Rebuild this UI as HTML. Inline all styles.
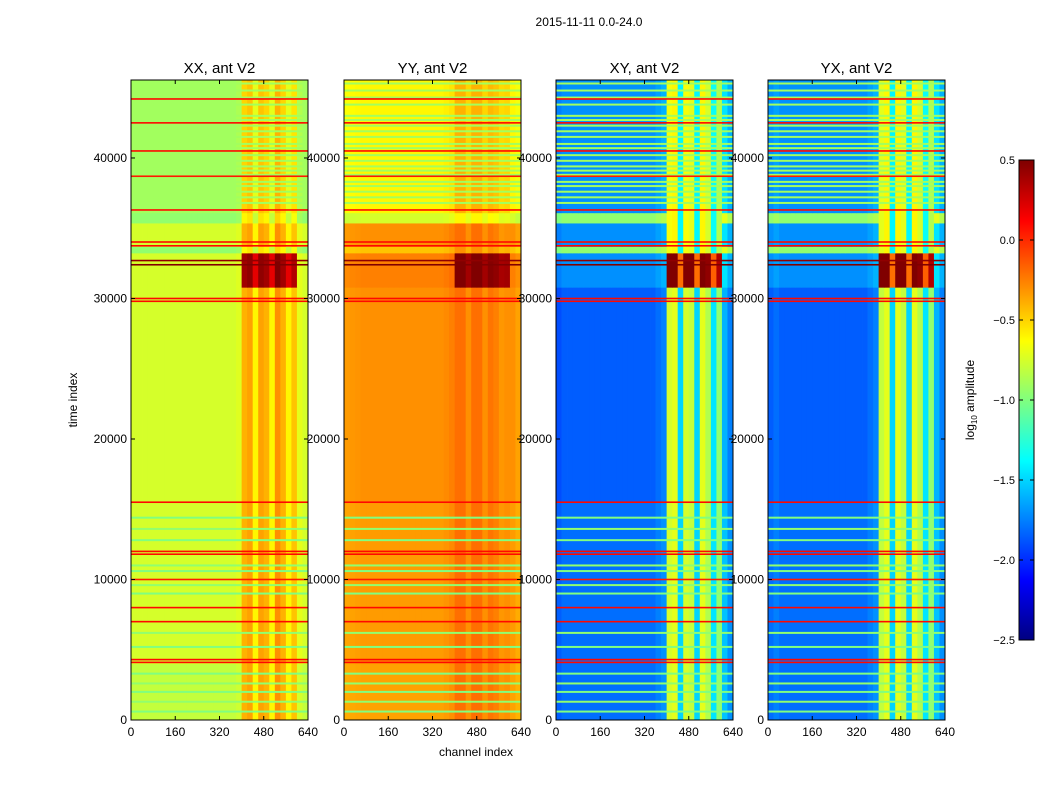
<!DOCTYPE html>
<html><head><meta charset="utf-8"><style>body{margin:0;background:#fff}svg{display:block;font-family:"Liberation Sans",sans-serif}</style></head>
<body>
<svg id="fig" width="1050" height="800">
<text x="589" y="26" font-size="12" text-anchor="middle">2015-11-11 0.0-24.0</text>
<text transform="translate(77,400) rotate(-90)" font-size="12" text-anchor="middle">time index</text>
<text x="476" y="756" font-size="12" text-anchor="middle">channel index</text>
<text transform="translate(974,400) rotate(-90)" font-size="12" text-anchor="middle">log<tspan font-size="8" dy="3">10</tspan><tspan dy="-3"> amplitude</tspan></text>
</svg>
<script>
const panelTitles=["XX, ant V2","YY, ant V2","XY, ant V2","YX, ant V2"];
const xTicks=[0,160,320,480,640];
const yTicks=[0,10000,20000,30000,40000];
const cbTicks=[0.5,0.0,-0.5,-1.0,-1.5,-2.0,-2.5];
const segStarts=[0,4000,15500,30800,33240,33700,35370,36100];
const segEnds=[4000,15500,30800,33240,33700,35370,36100,45550];
const baseXX=[-0.75,-0.75,-0.75,-0.75,-0.75,-0.75,-0.75,-0.75,-0.75,-0.75,-0.75,-0.75,-0.75,-0.75,-0.75,-0.75,-0.75,-0.75,-0.75,-0.72,-0.4,-0.35,-0.6,-0.35,-0.4,-0.6,-0.3,-0.4,-0.6,-0.45,-0.7,-0.75];
const baseYY=[-0.38,-0.37,-0.36,-0.35,-0.35,-0.35,-0.35,-0.35,-0.35,-0.35,-0.35,-0.35,-0.35,-0.35,-0.35,-0.35,-0.35,-0.35,-0.33,-0.3,-0.2,-0.2,-0.3,-0.2,-0.2,-0.3,-0.22,-0.25,-0.32,-0.3,-0.35,-0.4];
const baseXY=[-1.9,-1.85,-1.85,-1.85,-1.85,-1.85,-1.85,-1.85,-1.85,-1.85,-1.85,-1.85,-1.85,-1.85,-1.85,-1.85,-1.85,-1.85,-1.8,-1.75,-0.75,-0.7,-1.5,-0.75,-0.8,-1.5,-0.7,-0.85,-1.45,-0.95,-1.6,-1.75];
const baseYX=[-1.85,-1.8,-1.85,-1.85,-1.85,-1.85,-1.85,-1.85,-1.85,-1.85,-1.85,-1.85,-1.85,-1.85,-1.85,-1.85,-1.85,-1.85,-1.8,-1.75,-0.8,-0.7,-1.5,-0.7,-0.8,-1.5,-0.7,-0.85,-1.45,-0.95,-1.6,-1.75];
const bgOffXX=[-0.05,0,0,0,-0.2,0,-0.2,-0.15];
const bandOffXX=[0,0,0,0.8,-0.2,0,-0.2,-0.1];
const bgOffYY=[0,0.02,0.05,0.1,-0.1,0.05,-0.4,-0.25];
const bandOffYY=[0,0,0,0.7,-0.1,0,-0.4,-0.2];
const bgOffXY=[0.05,0.05,0,0.15,0.9,0.15,0.9,0.15];
const bandOffXY=[0,0,0,1.3,0.1,0.1,0.1,0.1];
const bgOffYX=[0.05,0.05,0,0.15,0.9,0.15,0.9,0.15];
const bandOffYX=[0,0,0,1.3,0.1,0.1,0.1,0.1];
const redLineTimes=[4100,4300,7000,8000,10000,11800,12000,15500,29800,30000,32400,32700,33750,34020,36300,38700,40500,42500,44200];
const redLineValues=[0.1,0.1,0.1,0.1,0.05,0.1,0.1,0.1,0.1,0.1,0.5,0.45,0.1,0.1,0.1,0.05,0.1,0.1,0.1];
const greenLineTimes=[600,1300,2000,2600,3300,5200,6200,9000,9600,10600,11000,12800,13600,14400,36800,37200,37600,38000,38300,38800,39100,39400,39800,40200,40700,41000,41500,41900,42300,42700,43000,43800,44300,44800,45300];
const greenLineValues=[-1.0,-0.95,-1.0,-0.95,-1.0,-1.0,-0.95,-1.0,-0.95,-1.0,-0.95,-1.0,-0.95,-1.0,-0.9,-0.9,-0.9,-0.9,-0.9,-0.9,-0.9,-0.9,-0.9,-0.9,-0.9,-0.9,-0.9,-0.9,-0.9,-0.9,-0.9,-0.9,-0.9,-0.9,-0.9];
const bandStart=400, bandEnd=600, binWidth=20, tMax=45550, chMax=640;
const vmin=-2.5, vmax=0.5;
const panelLefts=[131,344,556,768], panelW=177, plotTop=80, plotBottom=720;
const bases=[baseXX,baseYY,baseXY,baseYX];
const bgOffs=[bgOffXX,bgOffYY,bgOffXY,bgOffYX];
const bandOffs=[bandOffXX,bandOffYY,bandOffXY,bandOffYX];
const NS="http://www.w3.org/2000/svg";
const svg=document.getElementById('fig');
function mk(tag,attrs,parent){const e=document.createElementNS(NS,tag);for(const k in attrs)e.setAttribute(k,attrs[k]);(parent||svg).appendChild(e);return e;}
function jet(v){let t=(v-vmin)/(vmax-vmin);t=Math.max(0,Math.min(1,t));
 const c=x=>Math.max(0,Math.min(1,x));
 const r=c(Math.min(4*t-1.5,-4*t+4.5)),g=c(Math.min(4*t-0.5,-4*t+3.5)),b=c(Math.min(4*t+0.5,-4*t+2.5));
 return `rgb(${Math.round(r*255)},${Math.round(g*255)},${Math.round(b*255)})`;}
function yScale(t){return plotBottom-(t/tMax)*(plotBottom-plotTop);}
function xScale(p,ch){return panelLefts[p]+ch/chMax*panelW;}
for(let p=0;p<4;p++){
 const g=mk('g',{});
 
 
 for(let s=0;s<segStarts.length;s++){
  for(let b=0;b<bases[p].length;b++){
   const ch=b*binWidth;const inBand=ch>=bandStart&&ch<bandEnd;
   const v=bases[p][b]+(inBand?bandOffs[p][s]:bgOffs[p][s]);
   const x0=xScale(p,ch),x1=xScale(p,ch+binWidth),y0=yScale(segEnds[s]),y1=yScale(segStarts[s]);
   const r=mk('rect',{x:x0,y:y0,width:x1-x0+0.4,height:y1-y0+0.4,fill:jet(v)},g);
   
   
  }
 }
 greenLineTimes.forEach((t,i)=>{const y=yScale(t);
  const l=mk('rect',{x:panelLefts[p],y:y-1,width:panelW,height:2,fill:jet(greenLineValues[i])},g);
  
  });
 redLineTimes.forEach((t,i)=>{const y=yScale(t);
  const l=mk('rect',{x:panelLefts[p],y:y-0.8,width:panelW,height:1.6,fill:jet(redLineValues[i])},g);
  
  });
 const fr=mk('rect',{x:panelLefts[p],y:plotTop,width:panelW,height:plotBottom-plotTop,fill:'none',stroke:'#000','stroke-width':1});
 
 
 const tt=mk('text',{x:panelLefts[p]+panelW/2,y:73,'font-size':15,'text-anchor':'middle'});
 tt.textContent=panelTitles[p];
 
 
 xTicks.forEach(v=>{const x=xScale(p,v);
  mk('line',{x1:x,x2:x,y1:plotBottom,y2:plotBottom-4,stroke:'#000'});
  mk('line',{x1:x,x2:x,y1:plotTop,y2:plotTop+4,stroke:'#000'});
  const tx=mk('text',{x:x,y:736,'font-size':12,'text-anchor':'middle'});tx.textContent=v;
  
  });
 yTicks.forEach(v=>{const y=yScale(v);
  mk('line',{x1:panelLefts[p],x2:panelLefts[p]+4,y1:y,y2:y,stroke:'#000'});
  mk('line',{x1:panelLefts[p]+panelW,x2:panelLefts[p]+panelW-4,y1:y,y2:y,stroke:'#000'});
  const ty=mk('text',{x:panelLefts[p]-4,y:y+4,'font-size':12,'text-anchor':'end'});ty.textContent=v;
  
  });
}
const cbX=1019,cbW=15,cbTop=160,cbBot=640;
const cb=mk('g',{});


for(let i=0;i<240;i++){const v=vmin+(i+0.5)/240*(vmax-vmin);const y=cbBot-(i+1)/240*(cbBot-cbTop);
 mk('rect',{x:cbX,y:y,width:cbW,height:(cbBot-cbTop)/240+0.5,fill:jet(v)},cb);}
mk('rect',{x:cbX,y:cbTop,width:cbW,height:cbBot-cbTop,fill:'none',stroke:'#000'},cb);
cbTicks.forEach(v=>{const y=cbBot-(v-vmin)/(vmax-vmin)*(cbBot-cbTop);
 mk('line',{x1:cbX,x2:cbX+4,y1:y,y2:y,stroke:'#000'},cb);
 mk('line',{x1:cbX+cbW,x2:cbX+cbW-4,y1:y,y2:y,stroke:'#000'},cb);
 const t=mk('text',{x:cbX-4,y:y+4,'font-size':11,'text-anchor':'end'},cb);
 t.textContent=(v<0?'\u2212':'')+Math.abs(v).toFixed(1);
 
 });
</script>
</body></html>
